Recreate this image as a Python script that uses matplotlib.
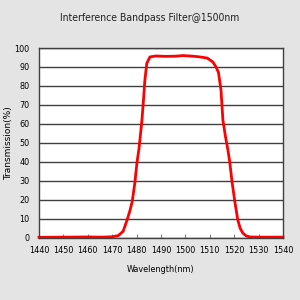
import matplotlib.pyplot as plt

# wavelength (nm) and transmission (%)
wl = [1440, 1450, 1460, 1466, 1470, 1472.5, 1474.5, 1476, 1477.2, 1478.2, 1479.3, 1480.2,
      1481, 1482.2, 1482.8, 1483.4, 1484.2, 1485.5, 1488, 1492, 1496, 1499, 1503, 1506,
      1509, 1511.3, 1512.6, 1513.6, 1514.6, 1515.4, 1516.5, 1517.5, 1518.2, 1519.1, 1520.3,
      1521.5, 1522.5, 1523.6, 1525, 1526.5, 1530, 1540]
tr = [0.3, 0.4, 0.5, 0.4, 0.6, 1.2, 3.5, 9, 14, 19, 29, 40,
      47, 62, 72, 83, 92, 95.3, 95.8, 95.6, 95.7, 96, 95.7, 95.3,
      94.7, 92.6, 90, 87, 78, 62, 53, 46, 40, 30, 19,
      9.5, 5, 2.5, 1, 0.5, 0.4, 0.4]

narrow = dict(fontfamily='DejaVu Sans', fontstretch='condensed')

fig = plt.figure(figsize=(3, 3), dpi=100, facecolor='#e4e4e4')
ax = fig.add_axes([0.13, 0.207, 0.813, 0.633])
ax.set_facecolor('white')

ax.set_xlim(1440, 1540)
ax.set_ylim(0, 100)
ax.set_xticks(range(1440, 1541, 10))
ax.set_yticks(range(0, 101, 10))
ax.yaxis.grid(True, color='#404040', linewidth=1)
ax.set_axisbelow(True)
ax.tick_params(axis='y', length=0, pad=7, labelsize=6.5)
ax.tick_params(axis='x', direction='in', length=3, color='#808080', pad=6, labelsize=6.5)
for lab in ax.get_xticklabels() + ax.get_yticklabels():
    lab.set_fontfamily('DejaVu Sans')
    lab.set_fontstretch('condensed')
for s in ax.spines.values():
    s.set_color('#404040')
    s.set_linewidth(1)

ax.plot(wl, tr, color='red', linewidth=2, clip_on=False)

fig.text(0.5, 0.94, 'Interference Bandpass Filter@1500nm', ha='center', va='center',
         fontsize=7.5, color='#202020', **narrow)
ax.set_xlabel('Wavelength(nm)', fontsize=6.5, labelpad=7, **narrow)
ax.set_ylabel('Transmission(%)', fontsize=6.5, fontfamily='DejaVu Sans', labelpad=1)

fig.savefig('out.png', dpi=100, facecolor=fig.get_facecolor())
